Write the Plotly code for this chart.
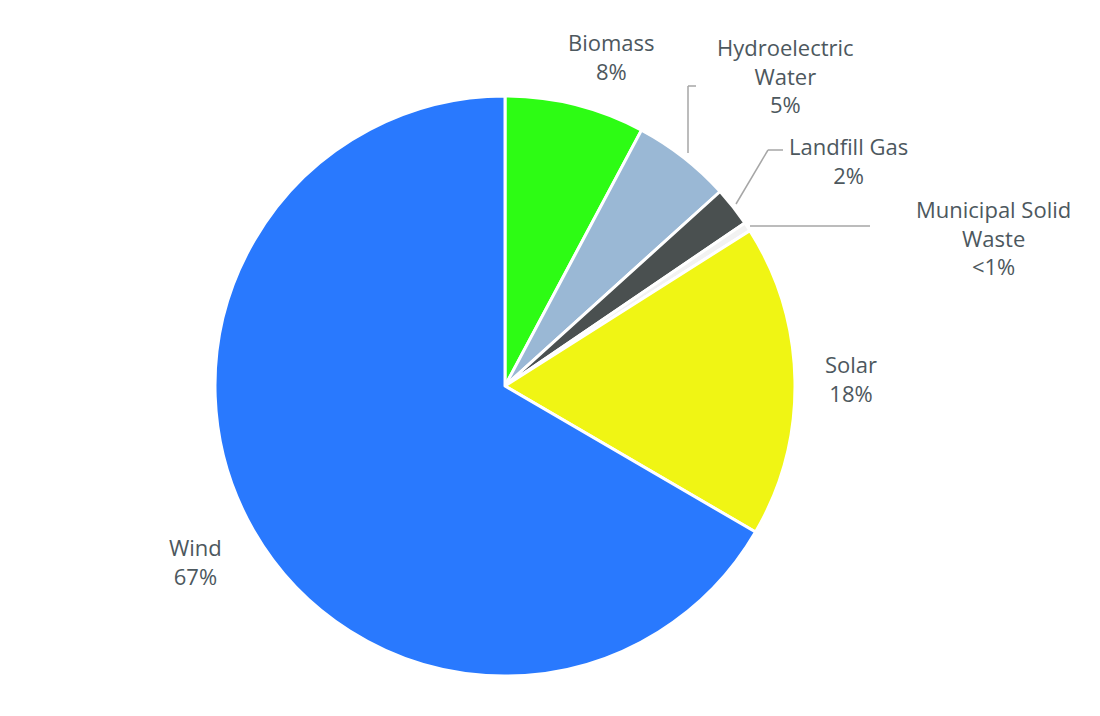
import plotly.graph_objects as go

W, H = 1100, 716

sources = ["Biomass", "Hydroelectric Water", "Landfill Gas", "Municipal Solid Waste", "Solar", "Wind"]
shares = [7.8, 5.5, 2.2, 0.5, 17.4, 66.6]
label_text = ["Biomass<br>8%", "Hydroelectric<br>Water<br>5%", "Landfill Gas<br>2%",
              "Municipal Solid<br>Waste<br><1%", "Solar<br>18%", "Wind<br>67%"]
colors = ["#2dfc14", "#9ab8d5", "#4a5050", "#f2f2f2", "#f0f514", "#2979fe"]

# label centres in pixels (x, y from top)
label_pos = [(603, 48), (777, 68), (840, 152), (985, 230), (843, 370), (187, 553)]
leaders = [
    [(680, 145), (680, 78), (688, 78)],
    [(728, 196), (760, 142), (775, 142)],
    [(742, 218), (862, 218)],
]


def px(x, y):
    return x / W, 1 - y / H


fig = go.Figure(go.Pie(
    labels=sources,
    values=shares,
    sort=False,
    direction="clockwise",
    rotation=0,
    textinfo="none",
    hoverinfo="label+percent",
    marker=dict(colors=colors, line=dict(color="white", width=3)),
    domain=dict(x=[207 / W, 787 / W], y=[1 - 668 / H, 1 - 88 / H]),
))

for txt, (x, y) in zip(label_text, label_pos):
    xp, yp = px(x, y)
    fig.add_annotation(x=xp, y=yp, xref="paper", yref="paper", text=txt,
                       xanchor="center", yanchor="middle",
                       showarrow=False, font=dict(size=22, color="#4d585e"))

for pts in leaders:
    for (x0, y0), (x1, y1) in zip(pts[:-1], pts[1:]):
        a, b = px(x0, y0)
        c, d = px(x1, y1)
        fig.add_shape(type="line", xref="paper", yref="paper", x0=a, y0=b, x1=c, y1=d,
                      line=dict(color="#a6a6a6", width=1.5))

fig.update_layout(
    width=W, height=H,
    margin=dict(l=0, r=0, t=0, b=0),
    showlegend=False,
    paper_bgcolor="white",
    font=dict(family="Open Sans, Lato, sans-serif"),
)

fig.write_html("out.html")
